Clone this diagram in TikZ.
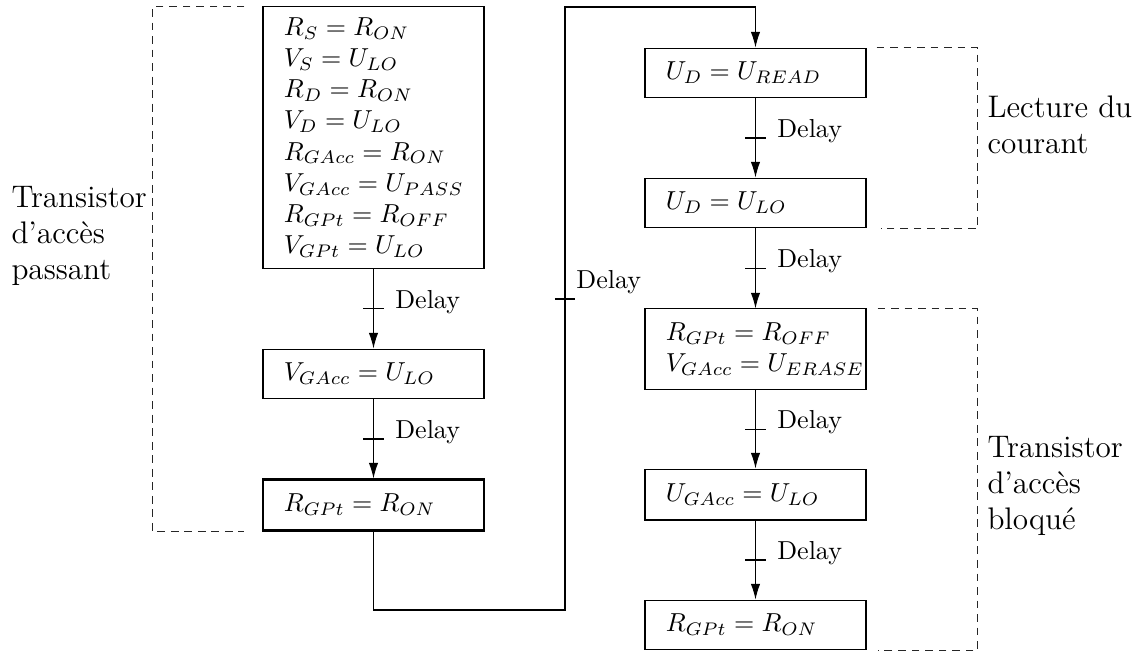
\documentclass[tikz,border=0pt]{standalone}
\usetikzlibrary{arrows.meta,calc}
\begin{document}
\begin{tikzpicture}[x=0.3846pt,y=-0.3846pt,
  stepbox/.style={draw, line width=0.4pt, rectangle, minimum width=85pt, text width=69pt,
    inner xsep=8pt, inner ysep=2pt, align=left, anchor=center,
    execute at begin node={\relpenalty=10000 \binoppenalty=10000 \hbadness=10000 \hfuzz=20pt}},
  initbox/.style={stepbox, line width=0.8pt},
  arr/.style={-{Latex[length=6pt,width=3.6pt]}, line width=0.4pt},
  tickline/.style={line width=0.4pt},
  dl/.style={anchor=base west, inner sep=0pt},
  bracket/.style={dash pattern=on 3pt off 2.2pt, line width=0.4pt, black!85},
  lbl/.style={anchor=west, align=left, inner sep=0pt, font=\large}]
\useasboundingbox (0,0) rectangle (1147,651);

% left column
\node[stepbox, minimum height=100.4pt] (L1) at (373.5,137.5)
  {$R_S = R_{ON}$\\ $V_S = U_{LO}$\\ $R_D = R_{ON}$\\ $V_D = U_{LO}$\\
   $R_{GAcc} = R_{ON}$\\ $V_{GAcc} = U_{PASS}$\\ $R_{GPt} = R_{OFF}$\\ $V_{GPt} = U_{LO}$};
\node[stepbox, minimum height=19.2pt] (L2) at (373.5,374) {$V_{GAcc} = U_{LO}$};
\node[initbox, minimum height=19.6pt] (L3) at (373.5,505) {$R_{GPt} = R_{ON}$};

% right column
\node[stepbox, minimum height=19.2pt] (R1) at (755.5,73) {$U_D = U_{READ}$};
\node[stepbox, minimum height=19.2pt] (R2) at (755.5,203) {$U_D = U_{LO}$};
\node[stepbox, minimum height=30.8pt] (R3) at (755.5,349) {$R_{GPt} = R_{OFF}$\\ $V_{GAcc} = U_{ERASE}$};
\node[stepbox, minimum height=19.6pt] (R4) at (755.5,494.5) {$U_{GAcc} = U_{LO}$};
\node[stepbox, minimum height=19.2pt] (R5) at (755.5,625) {$R_{GPt} = R_{ON}$};

% transitions with delay ticks
\foreach \a/\b/\n in {L1/L2/tA, L2/L3/tB, R1/R2/tC, R2/R3/tD, R3/R4/tE, R4/R5/tF}{
  \draw[arr] (\a.south) -- (\b.north);
  \coordinate (\n) at ($(\a.south)!0.5!(\b.north)$);
  \draw[tickline] ([xshift=-3.85pt]\n) -- ([xshift=3.85pt]\n);
  \node[dl] (d\n) at ([xshift=8.2pt,yshift=0.2pt]\n) {Delay};
}

% long return connection
\coordinate (c1) at (565,610);
\coordinate (c2) at (565,7);
\coordinate (t0) at (565,299);
\draw[arr] (L3.south) |- (c1) -- (c2) -| (R1.north);
\draw[tickline] ([xshift=-3.85pt]t0) -- ([xshift=3.85pt]t0);
\node[dl] (dt0) at ([xshift=4.2pt,yshift=4.2pt]t0) {Delay};

% dashed brackets
\draw[bracket] ($(L1.north west)+(-18,0)$) -- ($(L1.north west)+(-110,0)$) |- ($(L3.south west)+(-18,0)$);
\draw[bracket] ($(R1.north east)+(10,0)$) -- ($(R1.north east)+(111,0)$) |- ($(R2.south east)+(14,0)$);
\draw[bracket] ($(R3.north east)+(11,0)$) -- ($(R3.north east)+(111,0)$) |- ($(R5.south east)+(11,0)$);

% labels
\node[lbl] (lp) at (11,236) {Transistor\\d'accès\\passant};
\node[lbl] (lr) at (987,125) {Lecture du\\courant};
\node[lbl] (lb) at (987,486) {Transistor\\d'accès\\bloqué};
\end{tikzpicture}
\end{document}
